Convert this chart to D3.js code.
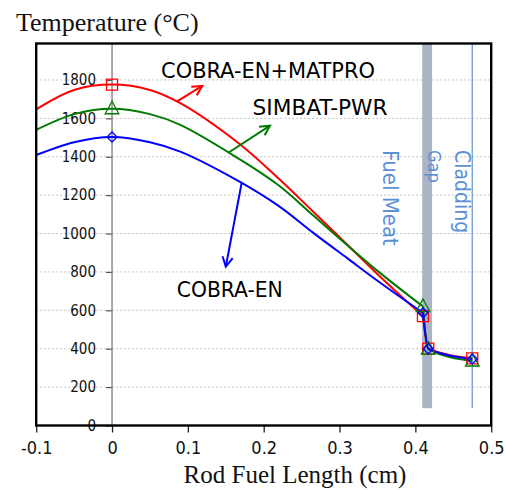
<!DOCTYPE html>
<html>
<head>
<meta charset="utf-8">
<script src="https://cdn.jsdelivr.net/npm/d3@7"></script>
<style>
  html, body { margin: 0; padding: 0; background: #ffffff; }
  svg { display: block; }
  .sans { font-family: "DejaVu Sans Condensed", "DejaVu Sans", sans-serif; font-stretch: condensed; }
  .serif { font-family: "Liberation Serif", "Times New Roman", serif; }
</style>
</head>
<body>
<svg id="chart" width="506" height="490"></svg>
<script>
// ---------------- data ----------------
const xTicks = [-0.1, 0, 0.1, 0.2, 0.3, 0.4, 0.5];
const xTickLabels = ["-0.1", "0", "0.1", "0.2", "0.3", "0.4", "0.5"];
const yTicks = [0, 200, 400, 600, 800, 1000, 1200, 1400, 1600, 1800];
const yTickLabels = ["0", "200", "400", "600", "800", "1000", "1200", "1400", "1600", "1800"];

// radial position (cm)
const radius = [-0.1, -0.05, 0, 0.05, 0.09, 0.167, 0.22, 0.265, 0.31, 0.355, 0.41, 0.417, 0.475];
// temperatures (°C)
const tMatpro = [1647, 1748, 1776, 1748, 1679, 1470, 1285, 1115, 943, 770, 570, 400, 350];
const tSimbat = [1540, 1622, 1650, 1622, 1566, 1390, 1250, 1095, 940, 790, 620, 398, 336];
const tCobra  = [1409, 1476, 1503, 1476, 1427, 1273, 1143, 1005, 872, 740, 587, 400, 346];
const markerIdx = [2, 10, 11, 12];
const fuelEndIdx = 10;   // last point inside the fuel meat

const seriesNames = ["COBRA-EN+MATPRO", "SIMBAT-PWR", "COBRA-EN"];
const seriesColors = ["#ff0000", "#007a00", "#0000ff"];
const seriesMarkers = ["square", "triangle", "diamond"];

// gap / cladding regions (cm)
const gapRange = [0.409, 0.422];
const claddingX = 0.475;
const regionBottom = 90;
const regionNames = ["Fuel Meat", "Gap", "Cladding"];

// annotation arrows: [x0, T0, x1, T1]
const arrows = [
  [0.0853, 1687, 0.119, 1769],
  [0.1533, 1421, 0.2083, 1562],
  [0.171, 1265, 0.150, 827]
];
const labelPos = [[0.0646, 1809], [0.1853, 1617], [0.0853, 667]];
const labelWidth = [214, 135, 106];

// ---------------- layout ----------------
const svg = d3.select("#chart");
const x = d3.scaleLinear().domain([-0.1, 0.5]).range([36.2, 491.2]);
const y = d3.scaleLinear().domain([0, 1990]).range([425.5, 43.5]);

// gridlines
svg.append("g").selectAll("line").data(yTicks.filter(d => d > 0)).join("line")
  .attr("x1", x(-0.1)).attr("x2", x(0.5))
  .attr("y1", d => y(d)).attr("y2", d => y(d))
  .attr("stroke", "#c4c4c4").attr("stroke-width", 1).attr("stroke-dasharray", "2,2");

// gap band
svg.append("rect")
  .attr("x", x(gapRange[0])).attr("width", x(gapRange[1]) - x(gapRange[0]))
  .attr("y", y.range()[1]).attr("height", y(regionBottom) - y.range()[1])
  .attr("fill", "#aab4c3");
// cladding line
svg.append("line")
  .attr("x1", x(claddingX)).attr("x2", x(claddingX))
  .attr("y1", y.range()[1]).attr("y2", y(regionBottom))
  .attr("stroke", "#7299d3").attr("stroke-width", 1.3);

// region labels
const regionLabel = [
  {name: regionNames[0], bx: 383.3, size: 22},
  {name: regionNames[1], bx: 428.3, size: 18},
  {name: regionNames[2], bx: 454.5, size: 21}
];
svg.append("g").selectAll("text").data(regionLabel).join("text")
  .attr("class", "sans")
  .attr("transform", d => `translate(${d.bx},150) rotate(90)`)
  .attr("font-size", d => d.size)
  .attr("fill", "#5b8fd6")
  .text(d => d.name);

// y axis at x = 0
const yAxis = d3.axisLeft(y).tickValues(yTicks).tickFormat((d, i) => yTickLabels[i])
  .tickSize(6).tickPadding(10);
const gy = svg.append("g").attr("transform", `translate(${x(0)},0)`).call(yAxis);
gy.select(".domain").remove();
gy.append("line").attr("x1", 0).attr("x2", 0).attr("y1", y.range()[1]).attr("y2", y(0))
  .attr("stroke", "#7a7a7a").attr("stroke-width", 1.3);
gy.selectAll(".tick line").attr("stroke", "#555").attr("stroke-width", 1.2);
gy.selectAll(".tick text").attr("class", "sans").attr("font-size", 15).attr("fill", "#111");

// x axis
const xAxis = d3.axisBottom(x).tickValues(xTicks).tickFormat((d, i) => xTickLabels[i])
  .tickSize(7).tickPadding(9);
const gx = svg.append("g").attr("transform", `translate(0,${y(0)})`).call(xAxis);
gx.select(".domain").remove();
gx.selectAll(".tick line").attr("stroke", "#222").attr("stroke-width", 1.3);
gx.selectAll(".tick text").attr("class", "sans").attr("font-size", 18).attr("fill", "#111");

// series lines: smooth profile in the fuel, monotone drop across gap and cladding
const seriesData = [tMatpro, tSimbat, tCobra];
const fuelLine = d3.line().x(d => x(d[0])).y(d => y(d[1])).curve(d3.curveCatmullRom.alpha(0.5));
const outerLine = d3.line().x(d => x(d[0])).y(d => y(d[1])).curve(d3.curveMonotoneX);
const gl = svg.append("g");
seriesData.forEach((vals, s) => {
  const pts = radius.map((r, i) => [r, vals[i]]);
  gl.append("path").datum(pts.slice(0, fuelEndIdx + 1)).attr("d", fuelLine)
    .attr("fill", "none").attr("stroke", seriesColors[s]).attr("stroke-width", 2);
  gl.append("path").datum(pts.slice(fuelEndIdx)).attr("d", outerLine)
    .attr("fill", "none").attr("stroke", seriesColors[s]).attr("stroke-width", 2);
});

// markers
function markerPath(type) {
  if (type === "square") return "M-5.5,-5.5H5.5V5.5H-5.5Z";
  if (type === "triangle") return "M0,-7.5L6.8,5L-6.8,5Z";
  return "M0,-5L5,0L0,5L-5,0Z";
}
seriesData.forEach((vals, s) => {
  svg.append("g").selectAll("path").data(markerIdx).join("path")
    .attr("transform", i => `translate(${x(radius[i])},${y(vals[i])})`)
    .attr("d", markerPath(seriesMarkers[s]))
    .attr("fill", "none").attr("stroke", seriesColors[s]).attr("stroke-width", 1.3);
});

// arrows
arrows.forEach((a, s) => {
  const x0 = x(a[0]), y0 = y(a[1]), x1 = x(a[2]), y1 = y(a[3]);
  const ang = Math.atan2(y1 - y0, x1 - x0);
  const L = 11, spread = Math.PI / 6.5;
  const g = svg.append("g").attr("stroke", seriesColors[s]).attr("stroke-width", 2).attr("fill", "none");
  g.append("line").attr("x1", x0).attr("y1", y0).attr("x2", x1).attr("y2", y1);
  g.append("path").attr("d",
    `M${x1 - L * Math.cos(ang - spread)},${y1 - L * Math.sin(ang - spread)}L${x1},${y1}L${x1 - L * Math.cos(ang + spread)},${y1 - L * Math.sin(ang + spread)}`);
});

// series labels
svg.append("g").selectAll("text").data(seriesNames).join("text")
  .attr("class", "sans").attr("font-size", 22).attr("fill", "#000")
  .attr("x", (d, i) => x(labelPos[i][0])).attr("y", (d, i) => y(labelPos[i][1]))
  .attr("textLength", (d, i) => labelWidth[i]).attr("lengthAdjust", "spacingAndGlyphs")
  .text(d => d);

// plot frame
svg.append("rect")
  .attr("x", x(-0.1)).attr("y", y.range()[1])
  .attr("width", x(0.5) - x(-0.1)).attr("height", y(0) - y.range()[1])
  .attr("fill", "none").attr("stroke", "#000").attr("stroke-width", 2.4);

// titles
svg.append("text").attr("class", "serif").attr("font-size", 26)
  .attr("x", 16).attr("y", 31).attr("fill", "#111").text("Temperature (°C)");
svg.append("text").attr("class", "serif").attr("font-size", 25)
  .attr("x", 295).attr("y", 483).attr("text-anchor", "middle").attr("fill", "#111")
  .text("Rod Fuel Length (cm)");
</script>
</body>
</html>
